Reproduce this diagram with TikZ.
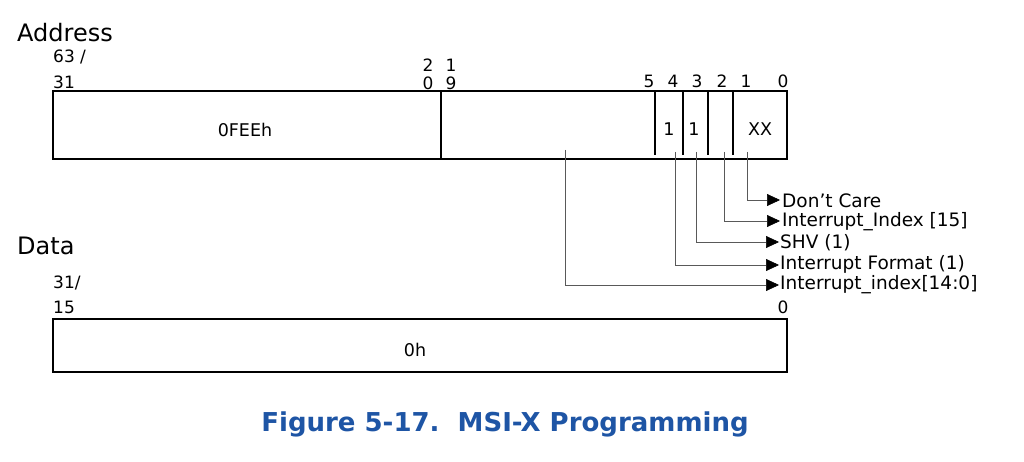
\documentclass[tikz,border=0pt]{standalone}
\usepackage{fontspec}
\setmainfont{DejaVu Sans}
\usetikzlibrary{arrows.meta}
\definecolor{capblue}{RGB}{30,85,165}
\begin{document}
\begin{tikzpicture}[x=1pt,y=-1pt,
  lbl/.style={inner sep=0,font=\fontsize{17.5}{17.5}\selectfont},
  num/.style={inner sep=0,font=\fontsize{17}{17}\selectfont},
  head/.style={inner sep=0,anchor=west,font=\fontsize{24}{24}\selectfont},
  box/.style={line width=2pt},
  div/.style={line width=2.6pt},
  lead/.style={line width=0.6pt,gray!70!black,-{Triangle[length=13pt,width=12pt,color=black]}},
  item/.style={inner sep=0,anchor=west,font=\fontsize{18.5}{18.5}\selectfont}]
\useasboundingbox (0,0) rectangle (1024,462);
\node[head] (addr) at (17,33) {Address};
\node[num,anchor=west] (a63) at (53,57) {63 /};
\node[num,anchor=west] (a31) at (53,82) {31};
\node[num] (a20a) at (428,65) {2};
\node[num] (a20b) at (428,83) {0};
\node[num] (a19a) at (451,65) {1};
\node[num] (a19b) at (451,83) {9};
\node[num] (b5) at (649,81) {5};
\node[num] (b4) at (673,81) {4};
\node[num] (b3) at (697,81) {3};
\node[num] (b2) at (722,81) {2};
\node[num] (b1) at (746,81) {1};
\node[num] (b0) at (783,81) {0};
\draw[box] (53,91) rectangle (787,159);
\draw[box] (441,91) -- (441,159);
\foreach \x in {655,683,708,733} \draw[div] (\x,91) -- (\x,155);
\node[lbl] (fee) at (245,130) {0FEEh};
\node[lbl] (c4) at (669,129) {1};
\node[lbl] (c3) at (694,129) {1};
\node[lbl] (xx) at (760,129) {XX};
\node[item] (dc) at (782,201) {Don’t Care};
\node[item] (ii15) at (782,222) {Interrupt\_Index [15]};
\node[item] (shv) at (780,243) {SHV (1)};
\node[item] (ifmt) at (780,264) {Interrupt Format (1)};
\node[item] (ii) at (780,285) {Interrupt\_index[14:0]};
\draw[lead] (747,152) |- (780,200);
\draw[lead] (724,152) |- (780,221);
\draw[lead] (696,152) |- (779,242);
\draw[lead] (675,152) |- (779,265);
\draw[lead] (565,150) |- (779,285);
\node[head] (data) at (17,246) {Data};
\node[num,anchor=west] (d31) at (53,283) {31/};
\node[num,anchor=west] (d15) at (53,307) {15};
\node[num] (d0) at (783,307) {0};
\draw[box] (53,319) rectangle (787,372);
\node[lbl] (zh) at (415,350) {0h};
\node[inner sep=0,text=capblue,font=\bfseries\fontsize{26}{26}\selectfont] (cap) at (505,424) {Figure 5-17.\ \ MSI-X Programming};
\end{tikzpicture}
\end{document}
